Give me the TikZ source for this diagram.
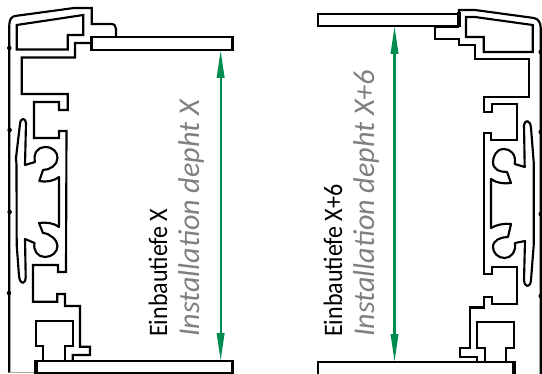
\documentclass[tikz,border=0pt]{standalone}
\usepackage{fontspec}
\setmainfont{Carlito}
\usetikzlibrary{arrows.meta}
\definecolor{dimgreen}{RGB}{0,140,80}
\definecolor{engray}{RGB}{128,128,128}
\newcommand{\detext}[1]{\scalebox{0.9}[1]{#1}}
\tikzset{
  profile/.style={line width=1.6pt,line join=miter,draw=black},
  plank/.style={draw=black,line width=1.6pt,fill=white,inner sep=0pt,outer sep=0pt,anchor=north west},
  thickedge/.style={line width=3pt,draw=black},
  dimline/.style={line width=1.6pt,draw=dimgreen,{Triangle[length=21pt,width=5.6pt,fill=dimgreen]}-{Triangle[length=21pt,width=5.6pt,fill=dimgreen]}},
  detxt/.style={rotate=90,anchor=base west,font=\fontsize{20pt}{22pt}\selectfont,text=black,inner sep=0pt},
  entxt/.style={rotate=90,anchor=base west,font=\fontsize{22.6pt}{24pt}\selectfont\itshape,text=engray,inner sep=0pt},
  pin/.style={fill=black,draw=none}
}
\begin{document}
\begin{tikzpicture}[x=0.75pt,y=-0.75pt]
\useasboundingbox (0,0) rectangle (542,374);
% ---------- left profile ----------
\draw[profile] (9.3,372.5) -- (9.3,25) .. controls (9.3,19) and (12,16.5) .. (15,16) -- (74,8) -- (91.7,8) -- (91.7,24) -- (111,24) .. controls (114.5,24) and (116,26) .. (116,29) -- (116,37);
\draw[draw=black!35,line width=1pt] (9.3,372.7) -- (34,372.7);
\draw[profile] (16.7,25) -- (83.3,15) -- (83.3,35) -- (67.7,35) -- (67.7,49.5) -- (16.7,49.5) -- cycle;
\node[plank,minimum width=141pt*0.75,minimum height=12.7pt*0.75] (plankTL) at (91.5,37.3) {};
\draw[profile] (91,43) -- (75,43) -- (75,57.5) -- (21.7,57.5) -- (21.7,94) -- (67.7,94) -- (67.7,110) -- (59,110) -- (59,102) -- (34,102) -- (34,138) -- (59,138) -- (59,131) -- (66.5,131) -- (66,272) -- (58,272) -- (58,265) -- (33,265) -- (33,301.7) -- (57.3,301.7) -- (57.3,294) -- (65,294) -- (65,306) -- (80,306) -- (80,346.7) -- (90,346.7) -- (90,355) -- (72.7,355) -- (72.7,361);
\draw[profile] (65,361) -- (65,346) -- (72.7,346) -- (72.7,320.7) -- (35.7,320.7) -- (35.7,346) -- (42.7,346) -- (42.7,361);
% left rib and hooks
\draw[profile,line join=round] (16.5,165) -- (16,158) -- (20,124) .. controls (20.5,117.5) and (25.5,117.5) .. (26,123) -- (25,165) -- (35,162) .. controls (33,153) and (38,147) .. (45,147) .. controls (53,147) and (57.5,152) .. (57.5,158) .. controls (57.5,165) and (50,170) .. (43,170) -- (39.3,181) .. controls (46,182.5) and (54,181) .. (59,177) -- (59,227) .. controls (54,223) and (46,222) .. (39,223) -- (43,233) .. controls (50,233.5) and (57.5,240) .. (57.5,246) .. controls (57.5,252) and (52,257) .. (45,257) .. controls (38,257) and (33,251) .. (34.5,243) -- (25,239) -- (25.7,277) .. controls (25.5,285) and (20,285) .. (19,276) -- (16.7,245) -- (16.5,165);
% left pins
\fill[pin] (9.3,48) circle (1.7pt) (9.6,130) circle (1.7pt) (9.6,212) circle (1.7pt) (9,293) circle (1.7pt);
% left bottom plank
\node[plank,minimum width=197pt*0.75,minimum height=11.7pt*0.75] (plankBL) at (35.5,361) {};
\draw[thickedge] (35.5,360) -- (35.5,374);
% left arrow
\draw[dimline] ([xshift=-8.9pt]plankTL.south east) -- ([xshift=-8.9pt]plankBL.north east);
\node[detxt] (deL) at (167,337) {\detext{Einbautiefe X}};
\node[entxt] (enL) at (199,337) {Installation depht X};
% ---------- right profile ----------
\draw[profile] (540.7,374) -- (540.7,28) .. controls (540.7,22) and (538,19) .. (534,18) -- (475,10) -- (459,10) -- (459,14);
\draw[profile] (466,17) -- (475,17) -- (532.7,25) -- (532.7,52) -- (483.7,52) -- (483.7,37) -- (466,37) -- cycle;
\node[plank,minimum width=141pt*0.75,minimum height=12pt*0.75] (plankTR) at (318,14) {};
\draw[thickedge] (458.5,12) -- (458.5,27);
\draw[profile] (459,27) -- (435,27) -- (435,39) -- (458.7,39) -- (458.7,45) -- (475,45) -- (475,59) -- (529,59) -- (529,97) -- (483.7,97) -- (483.7,112) -- (492,112) -- (492,104) -- (517,104) -- (517,140) -- (491,140) -- (491,133) -- (484,133) -- (484,274) -- (492,274) -- (492,267) -- (517,267) -- (517,304) -- (492,304) -- (492,297) -- (484,297) -- (484,307.5) -- (470,307.5) -- (470,348) -- (460,348) -- (460,357) -- (477,357) -- (477,363);
\draw[profile] (485,363) -- (485,348) -- (477,348) -- (477,322) -- (514,322) -- (514,348) -- (506,348) -- (506,363);
% right rib and hooks
\draw[profile,line join=round] (533.7,162) -- (531,128) .. controls (530.5,119.5) and (524.5,119.5) .. (524,125) -- (524.7,167) -- (514.7,164) .. controls (516.5,154) and (510,149) .. (504,149) .. controls (496,149) and (493,157) .. (493,162) .. controls (493,170) and (500,172) .. (507,172) -- (511,183) .. controls (504,184) and (496,183) .. (491,179) -- (491,228) .. controls (496,225) and (504,223) .. (511,224) -- (508,237) .. controls (501,237) and (493,240) .. (493,247) .. controls (493,253) and (498,258) .. (504.7,258) .. controls (511,258) and (516,252) .. (515,243) -- (525,241) -- (524,280) .. controls (524.5,288) and (530.5,288) .. (531,280) -- (533.7,245) -- cycle;
% right pins
\fill[pin] (540.7,52) circle (1.7pt) (540.7,132) circle (1.7pt) (540.7,214) circle (1.7pt) (540.7,296) circle (1.7pt);
% right bottom plank
\node[plank,minimum width=196pt*0.75,minimum height=14pt*0.75] (plankBR) at (318,362) {};
\draw[thickedge] (513.5,361) -- (513.5,374);
% right arrow
\draw[dimline] ([xshift=57.4pt]plankTR.south west) -- ([xshift=57.4pt]plankBR.north west);
\node[detxt] (deR) at (342,337) {\detext{Einbautiefe X+6}};
\node[entxt] (enR) at (374,337) {Installation depht X+6};
\end{tikzpicture}
\end{document}
